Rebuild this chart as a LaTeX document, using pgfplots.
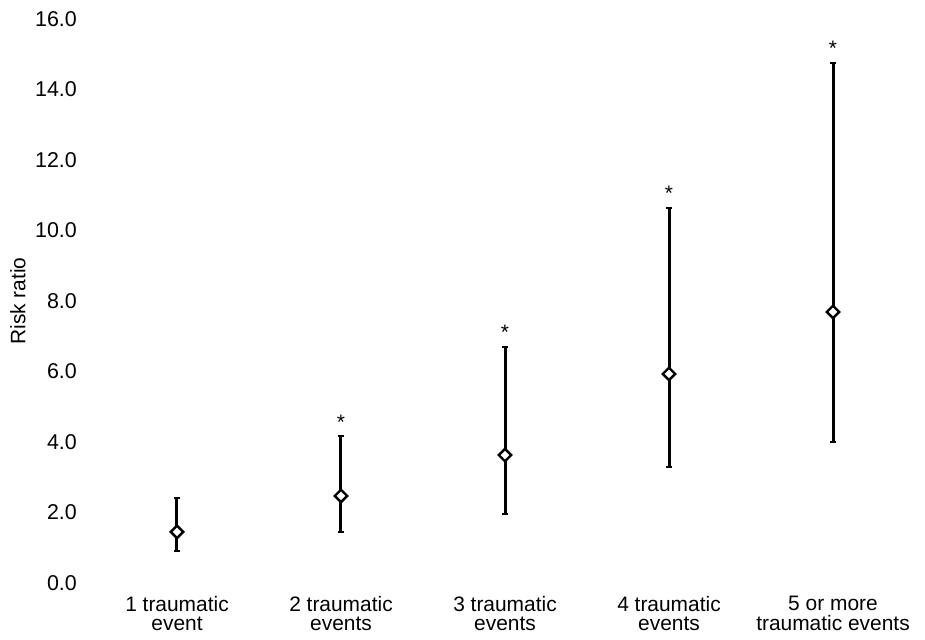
\documentclass[border=0pt]{standalone}
\usepackage{fontspec}
\setmainfont{Liberation Sans}
\usepackage{pgfplots}
\pgfplotsset{compat=1.18}
\begin{document}
\begin{tikzpicture}
\begin{axis}[
  scale only axis,
  width=830bp, height=564bp,
  xmin=0.5, xmax=5.561, ymin=0, ymax=16,
  axis line style={draw=none},
  tick style={draw=none},
  xtick={1,2,3,4,5},
  xticklabels={{1 traumatic\\event},{2 traumatic\\events},{3 traumatic\\events},{4 traumatic\\events},{5 or more\\traumatic events}},
  ytick={0,2,4,6,8,10,12,14,16},
  /pgf/number format/assume math mode=true,
  yticklabel={\pgfmathprintnumber[fixed,fixed zerofill,precision=1]{\tick}},
  font=\fontsize{21}{19.5}\selectfont,
  xticklabel style={align=center, inner sep=0pt, anchor=north, yshift=-13bp, font=\fontsize{21}{19.5}\selectfont},
  yticklabel style={inner sep=0pt, anchor=east, xshift=-18bp, font=\fontsize{21.5}{20}\selectfont},
  ylabel={Risk ratio},
  ylabel style={at={(axis description cs:-0.0928,0.5)}, anchor=center, inner sep=0pt, rotate=0, font=\fontsize{21}{20}\selectfont},
  clip=false,
]
\addplot[only marks, mark=square*, mark size=4.4bp,
  mark options={rotate=45, fill=white, draw=black, line width=2.4bp},
  error bars/.cd, y dir=both, y explicit,
  error bar style={line width=3bp, black},
  error mark options={rotate=90, mark size=3bp, line width=2bp, black}]
table[x=x, y=y, y error plus=ep, y error minus=em] {
x y ep em
1 1.45 0.96 0.54
2 2.47 1.70 1.02
3 3.63 3.07 1.67
4 5.93 4.71 2.64
5 7.69 7.06 3.69
};
\addplot[draw=none, mark=none, nodes near coords={*},
  every node near coord/.append style={anchor=base, inner sep=0pt, yshift=-12bp, font=\fontsize{21}{20}\selectfont}]
table[x=x, y=y] {
x y
2 4.70
3 7.26
4 11.20
5 15.30
};
\end{axis}
\path (current axis.south west) ++(-95bp,-57bp);
\path (current axis.north east) ++(0bp,19bp);
\end{tikzpicture}
\end{document}
